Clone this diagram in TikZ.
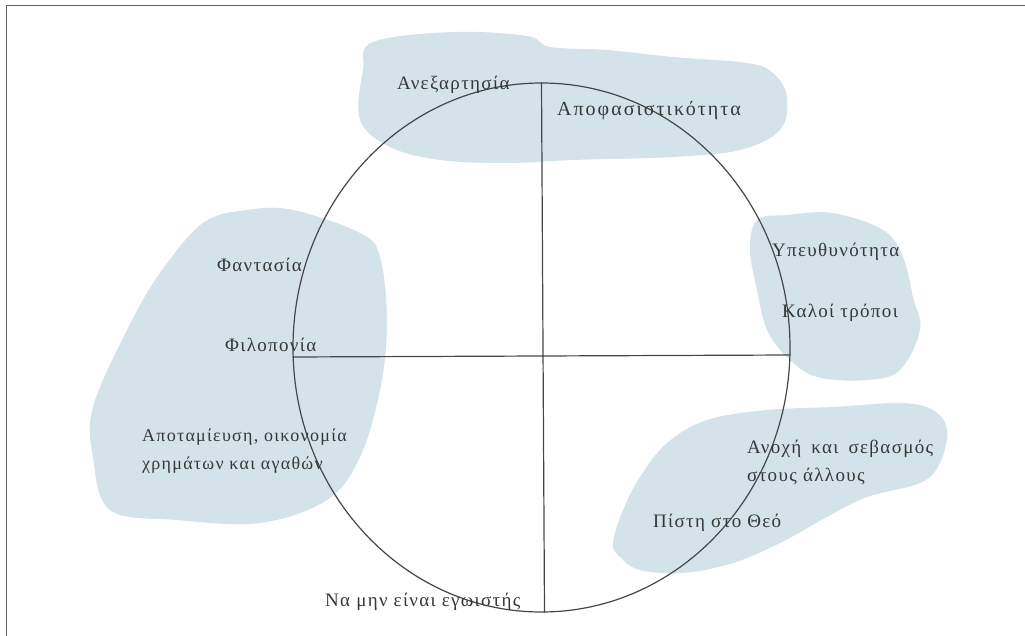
\documentclass[tikz,border=0pt]{standalone}
\usepackage{fontspec}
\setmainfont[LetterSpace=7]{Liberation Serif}
\newfontfamily\widefont[LetterSpace=10]{Liberation Serif}
\usetikzlibrary{shapes.geometric, positioning}
\definecolor{cloudblue}{RGB}{212,227,234}
\definecolor{inkgray}{RGB}{55,55,55}
\definecolor{linegray}{RGB}{70,70,70}
\definecolor{framegray}{RGB}{95,95,95}

\begin{document}
\begin{tikzpicture}[
        x=1pt, y=-1pt,
        blob/.style={fill=cloudblue, draw=none},
        trait/.style={anchor=west, inner sep=0pt, text=inkgray, align=left, font={\fontsize{19}{28}\selectfont}},
        divider/.style={draw=linegray, line width=1.2pt}
    ]
        \useasboundingbox (0,0) rectangle (1025,636);
        \draw[framegray, line width=1.6pt] (1025,5.5) -- (6.5,5.5) -- (6.5,636);

        % clouds
        \fill[blob] plot[smooth cycle, tension=0.6] coordinates {(373,42) (453,32) (527,36) (550,47) (607,50) (673,57) (747,63) (773,73) (787,97) (780,130) (740,150) (673,157) (573,160) (507,163) (440,160) (390,147) (360,120) (363,70)};
        \fill[blob] plot[smooth cycle, tension=0.6] coordinates {(247,210) (293,210) (360,233) (380,257) (387,323) (380,390) (360,457) (327,500) (260,523) (177,520) (110,510) (93,457) (93,407) (127,330) (160,273) (203,223)};
        \fill[blob] plot[smooth cycle, tension=0.6] coordinates {(757,220) (787,215) (833,213) (883,230) (903,257) (913,297) (920,330) (900,370) (867,380) (817,377) (787,357) (767,330) (757,290) (750,250)};
        \fill[blob] plot[smooth cycle, tension=0.6] coordinates {(613,543) (623,510) (640,477) (667,443) (707,420) (767,410) (833,407) (900,403) (933,410) (947,430) (940,463) (920,483) (867,497) (827,517) (780,543) (733,563) (683,573) (640,570) (620,557)};

        % circle and axes
        \node[ellipse, draw=linegray, line width=1.2pt, minimum width=497pt, minimum height=529pt, inner sep=0pt] (ring) at (541.5,347.5) {};
        \draw[divider] (ring.north) -- ([xshift=3pt]ring.south);
        \draw[divider] ([yshift=-9.5pt]ring.west) -- ([yshift=-7.5pt]ring.east);

        % traits
        \node[trait] (anex) at (397,85) {Ανεξαρτησία};
        \node[trait, font={\widefont\fontsize{20}{28}\selectfont}] (apof) at (557,111) {Αποφασιστικότητα};
        \node[trait] (ypeuth) at (772,252) {Υπευθυνότητα};
        \node[trait] (kaloi) at (782,313) {Καλοί τρόποι};
        \node[trait] (fant) at (217,265) {Φαντασία};
        \node[trait] (filop) at (225,345) {Φιλοπονία};
        \node[trait, font={\fontsize{18}{28}\selectfont}] (apotam) at (142,451) {Αποταμίευση, οικονομία\\χρημάτων και αγαθών};
        \node[trait, text width=186pt] (anoxi) at (747,462) {Ανοχή\hfill και\hfill σεβασμός\\στους άλλους};
        \node[trait] (pisti) at (653,523) {Πίστη στο Θεό};
        \node[trait] (ego) at (325,602) {Να μην είναι εγωιστής};
    \end{tikzpicture}
\end{document}
